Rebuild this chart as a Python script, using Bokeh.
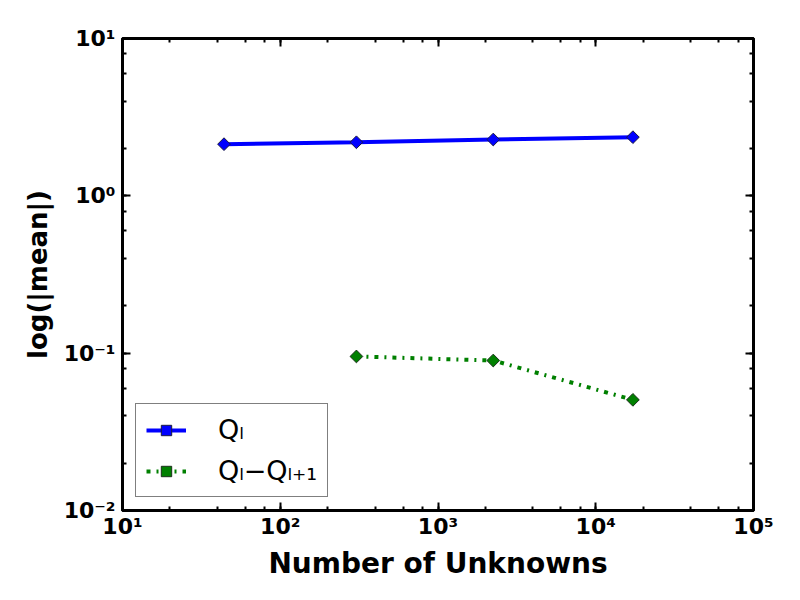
import math
from bokeh.plotting import figure
from bokeh.models import (LogAxis, LogTicker, CustomJSTickFormatter, Legend,
                          LegendItem, Range1d)
from bokeh.embed import file_html
from bokeh.resources import INLINE

# Mean of the quantity of interest per level, and of level differences
unknowns = [44, 304, 2240, 17200]
mean_q = [2.13, 2.19, 2.28, 2.36]
unknowns_diff = [304, 2240, 17200]
mean_diff = [0.0953, 0.0898, 0.0505]

x_label = "Number of Unknowns"
y_label = "log(|mean|)"
legend_labels = ["Q\u2097", "Q\u2097\u2212Q\u2097\u208a\u2081"]

FONT = "DejaVu Sans"

p = figure(width=800, height=600, x_axis_type="log", y_axis_type="log",
           x_range=Range1d(10, 1e5), y_range=Range1d(1e-2, 1e1),
           output_backend="svg", toolbar_location=None,
           min_border_left=122, min_border_right=47,
           min_border_top=38, min_border_bottom=90)
p.background_fill_color = "white"
p.border_fill_color = "white"
p.outline_line_color = "black"
p.outline_line_width = 3
p.xgrid.visible = False
p.ygrid.visible = False

bottom_axis = p.below[0]
left_axis = p.left[0]

sup_js = """
const sup = {'-':'\u207b','0':'\u2070','1':'\u00b9','2':'\u00b2','3':'\u00b3',
             '4':'\u2074','5':'\u2075','6':'\u2076','7':'\u2077','8':'\u2078','9':'\u2079'};
const e = Math.round(Math.log10(tick));
return '10' + String(e).split('').map(c => sup[c]).join('');
"""
fmt = CustomJSTickFormatter(code=sup_js)
blank_fmt = CustomJSTickFormatter(code="return '';")


def style_axis(ax, show_labels):
    ax.ticker = LogTicker(desired_num_ticks=6)
    ax.formatter = fmt if show_labels else blank_fmt
    ax.axis_line_color = "black"
    ax.axis_line_width = 2
    ax.major_tick_in = 8
    ax.major_tick_out = 0
    ax.minor_tick_in = 4
    ax.minor_tick_out = 0
    ax.major_tick_line_width = 2
    ax.minor_tick_line_width = 2
    ax.major_tick_line_color = "black"
    ax.minor_tick_line_color = "black"
    ax.major_label_text_font = FONT
    ax.major_label_text_font_style = "bold"
    ax.major_label_text_font_size = "22px"
    ax.major_label_text_color = "black"


style_axis(bottom_axis, True)
style_axis(left_axis, True)
bottom_axis.major_label_standoff = 3
left_axis.major_label_standoff = 7

top_axis = LogAxis()
right_axis = LogAxis()
style_axis(top_axis, False)
style_axis(right_axis, False)
top_axis.major_label_standoff = 0
right_axis.major_label_standoff = 0
p.add_layout(top_axis, "above")
p.add_layout(right_axis, "right")

bottom_axis.axis_label = x_label
left_axis.axis_label = y_label
for ax in (bottom_axis, left_axis):
    ax.axis_label_text_font = FONT
    ax.axis_label_text_font_style = "bold"
    ax.axis_label_text_color = "black"
bottom_axis.axis_label_text_font_size = "28px"
left_axis.axis_label_text_font_size = "26px"
bottom_axis.axis_label_standoff = 5
left_axis.axis_label_standoff = 8

l1 = p.line(unknowns, mean_q, line_color="blue", line_width=4)
s1 = p.scatter(unknowns, mean_q, marker="square", angle=math.pi / 4, size=9,
               fill_color="blue", line_color="#1a1a40", line_width=1)
l2 = p.line(unknowns_diff, mean_diff, line_color="green", line_width=4,
            line_dash="4 6 2 6")
s2 = p.scatter(unknowns_diff, mean_diff, marker="square", angle=math.pi / 4,
               size=9, fill_color="green", line_color="#1a301a", line_width=1)

legend = Legend(items=[LegendItem(label=legend_labels[0], renderers=[l1, s1]),
                       LegendItem(label=legend_labels[1], renderers=[l2, s2])],
                location="bottom_left")
legend.margin = 13
legend.padding = 10
legend.spacing = 10
legend.glyph_width = 40
legend.glyph_height = 26
legend.label_height = 26
legend.label_standoff = 32
legend.label_text_font = FONT
legend.label_text_font_size = "27px"
legend.label_text_color = "black"
legend.border_line_color = "black"
legend.border_line_width = 1
legend.background_fill_color = "white"
legend.background_fill_alpha = 1.0
p.add_layout(legend, "center")

open("out.html", "w").write(file_html(p, INLINE))
